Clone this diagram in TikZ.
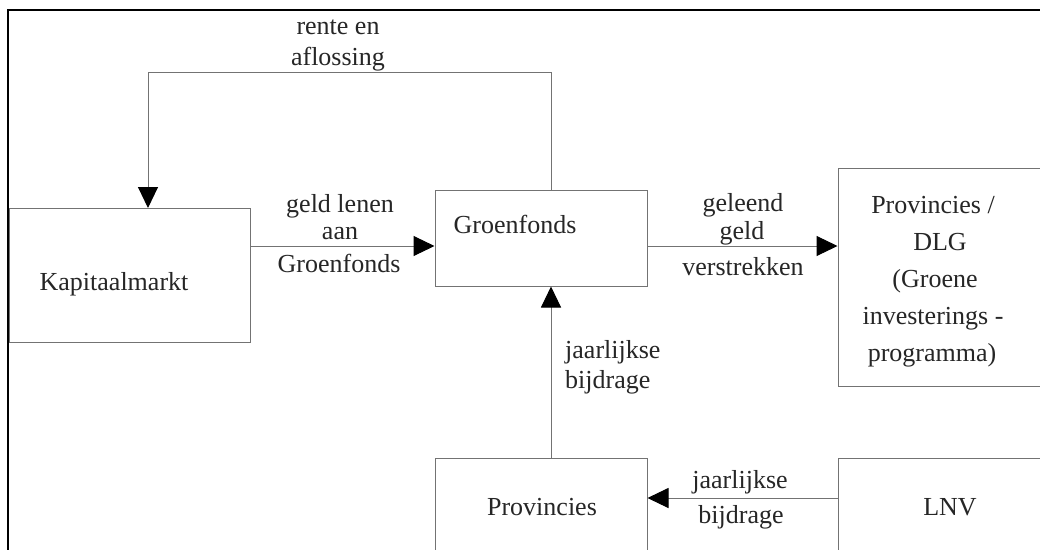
\documentclass[tikz,border=0pt]{standalone}
\usepackage{fontspec}
\setmainfont{Liberation Serif}
\usetikzlibrary{arrows.meta}
\begin{document}
\begin{tikzpicture}[x=1pt,y=-1pt,
  box/.style={draw=black!55, line width=1pt, inner sep=0pt},
  conn/.style={draw=black!55, line width=1pt},
  arr/.style={conn, -{Triangle[length=21pt,width=20pt,color=black]}},
  txt/.style={anchor=base, inner sep=0pt, font=\fontsize{26}{30}\selectfont, text=black!85}]
\useasboundingbox (0,0) rectangle (1040,549);
\clip (0,0) rectangle (1040,549);
\fill[white] (0,0) rectangle (1040,549);
% outer frame
\draw[line width=2.5pt] (8,570) -- (8,10) -- (1060,10);
% boxes
\node[box, minimum width=241pt, minimum height=134pt] (kap) at (129.5,275) {};
\node[box, minimum width=212pt, minimum height=96pt] (groen) at (541,238) {};
\node[box, minimum width=222pt, minimum height=218pt] (dlg) at (949,277) {};
\node[box, minimum width=212pt, minimum height=122pt] (prov) at (541,519) {};
\node[box, minimum width=222pt, minimum height=122pt] (lnv) at (949,519) {};
% box texts
\node[txt] (tkap) at (114,290) {Kapitaalmarkt};
\node[txt] (tgroen) at (515,233) {Groenfonds};
\node[txt] (tdlg1) at (933,213) {Provincies /};
\node[txt] (tdlg2) at (940,250) {DLG};
\node[txt] (tdlg3) at (935,287) {(Groene};
\node[txt] (tdlg4) at (933,324) {investerings -};
\node[txt] (tdlg5) at (932,361) {programma)};
\node[txt] (tprov) at (542,515) {Provincies};
\node[txt] (tlnv) at (950,515) {LNV};
% coordinates
\coordinate (gt) at (551,190);
\coordinate (kt) at (148,208);
\coordinate (pt) at (551,458);
\coordinate (ha) at (0,246);
\coordinate (hb) at (0,498);
% connectors
\draw[arr] (gt) -- ++(0,-118) -| (kt);
\draw[arr] (kap.east |- ha) -- (groen.west |- ha);
\draw[arr] (groen.east |- ha) -- (dlg.west |- ha);
\draw[arr] (pt) -- (gt |- groen.south);
\draw[arr] (lnv.west |- hb) -- (prov.east |- hb);
% connector labels
\node[txt] (l1a) at (338,34) {rente en};
\node[txt] (l1b) at (338,65) {aflossing};
\node[txt] (l2a) at (340,212) {geld lenen};
\node[txt] (l2b) at (340,239) {aan};
\node[txt] (l2c) at (339,272) {Groenfonds};
\node[txt] (l3a) at (743,211) {geleend};
\node[txt] (l3b) at (742,239) {geld};
\node[txt] (l3c) at (743,275) {verstrekken};
\node[txt, anchor=base west] (l4a) at (565,358) {jaarlijkse};
\node[txt, anchor=base west] (l4b) at (565,388) {bijdrage};
\node[txt] (l5a) at (740,488) {jaarlijkse};
\node[txt] (l5b) at (741,523) {bijdrage};
\end{tikzpicture}
\end{document}
